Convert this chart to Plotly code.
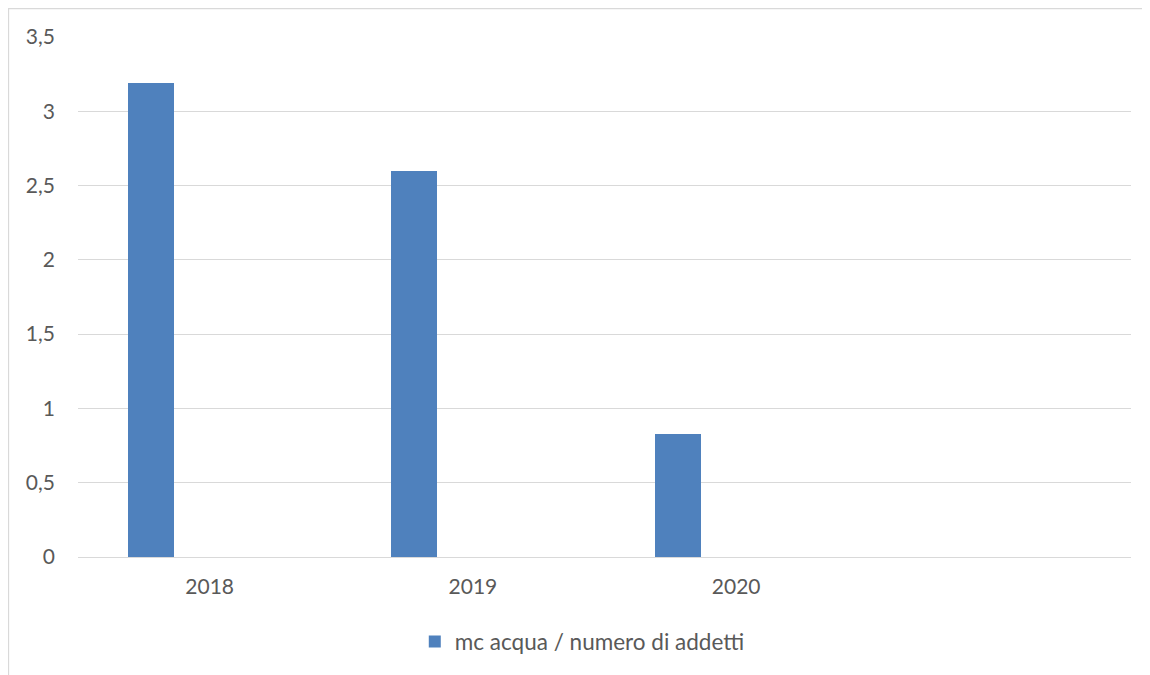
import plotly.graph_objects as go

years = ["2018", "2019", "2020"]
values = [3.188, 2.60, 0.831]
series_name = "mc acqua / numero di addetti"
y_ticks = [0, 0.5, 1, 1.5, 2, 2.5, 3, 3.5]
y_ticktext = ["0", "0,5", "1", "1,5", "2", "2,5", "3", "3,5"]

FONT = "Lato"
FS = 21
FS_LEG = 22.5
GRAY = "#595959"
GRID = "#d9d9d9"
BAR = "#4f81bd"

fig = go.Figure()
fig.add_trace(go.Bar(
    x=years, y=values, name=series_name,
    marker=dict(color=BAR, line=dict(width=0)),
    width=0.175, offset=-0.31,
    showlegend=True,
))

fig.update_layout(
    width=1150, height=675,
    margin=dict(l=70, r=27, t=29, b=126),
    paper_bgcolor="white", plot_bgcolor="white",
    font=dict(family=FONT, size=FS, color=GRAY),
    showlegend=True,
    legend=dict(orientation="h", x=0.4789, y=-0.163, xanchor="center", yanchor="middle",
                font=dict(family=FONT, size=FS_LEG, color=GRAY), bgcolor="rgba(0,0,0,0)"),
    xaxis=dict(type="category", categoryarray=years, range=[-0.5, 3.5],
               showgrid=False, showline=True, linecolor=GRID, linewidth=1,
               ticks="", ticklabelstandoff=11, zeroline=False,
               tickfont=dict(family=FONT, size=FS, color=GRAY)),
    yaxis=dict(range=[0, 3.5], tickvals=y_ticks, ticktext=y_ticktext,
               showgrid=True, gridcolor=GRID, gridwidth=1, zeroline=False,
               showline=False, ticks="", ticklabelstandoff=22,
               tickfont=dict(family=FONT, size=FS, color=GRAY)),
    shapes=[dict(type="rect", xref="paper", yref="paper",
                 x0=-0.066, x1=1.2, y0=-0.4, y1=1.0548,
                 line=dict(color=GRID, width=1.3), fillcolor="rgba(0,0,0,0)", layer="below")],
    bargap=0,
)

fig.write_html("out.html")
